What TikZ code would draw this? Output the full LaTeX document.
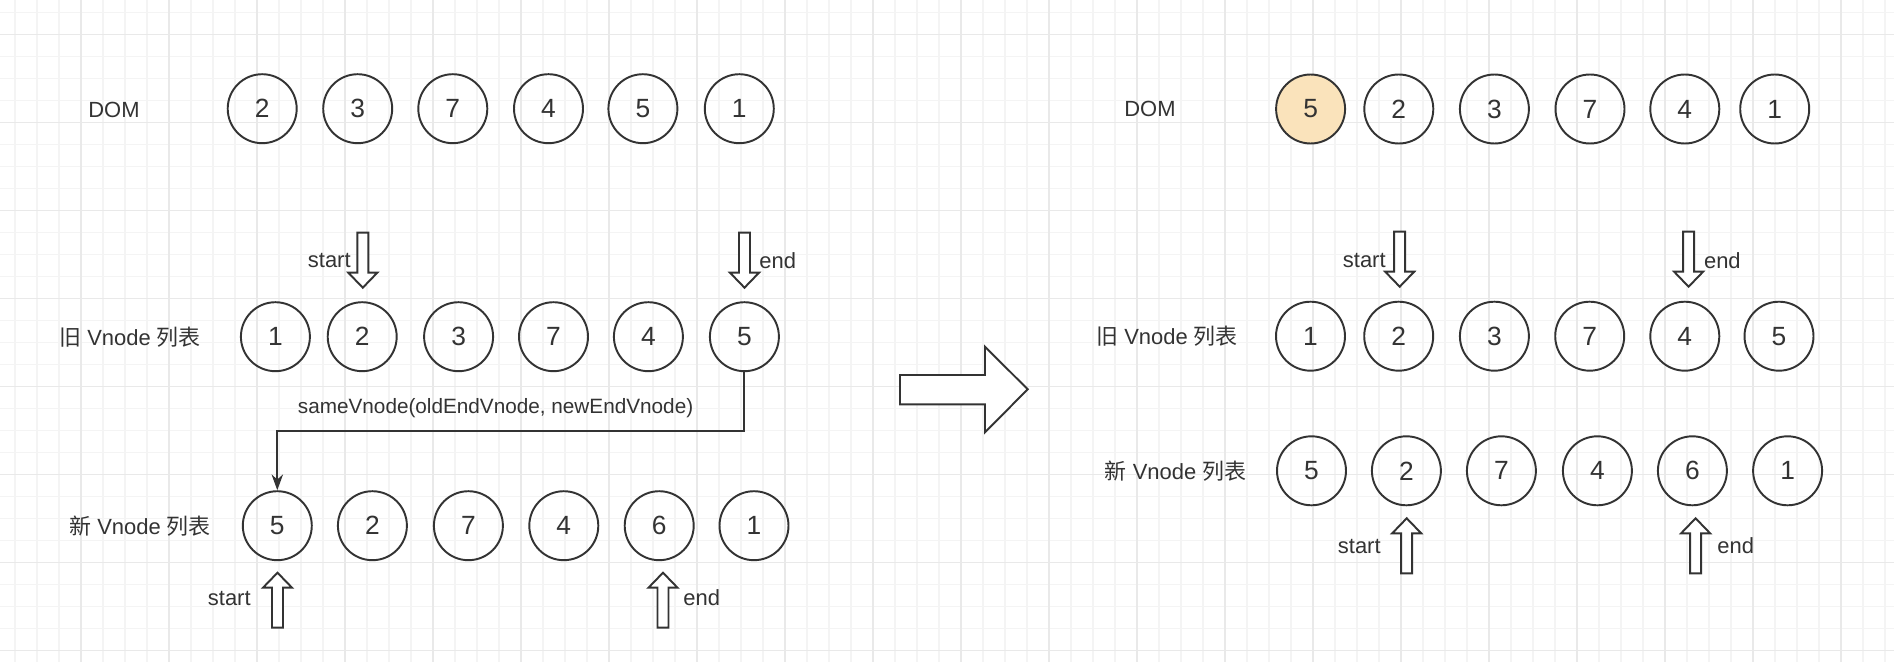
\documentclass[tikz,border=0pt]{standalone}
\usepackage{fontspec}
\setmainfont{Liberation Sans}
\newfontfamily\cjk{Noto Sans CJK SC}
\usetikzlibrary{arrows.meta}
\definecolor{ink}{HTML}{333333}
\definecolor{gridminor}{HTML}{F4F4F4}
\definecolor{gridmajor}{HTML}{E9E9E9}
\definecolor{hl}{HTML}{FAE3BB}
\begin{document}
\begin{tikzpicture}[x=0.02cm,y=-0.02cm,
  num/.style={circle,draw=ink,line width=1.1pt,minimum size=1.38cm,inner sep=0pt,text=ink,font=\fontsize{15}{18}\selectfont},
  lbl/.style={text=ink,font=\fontsize{12.5}{15}\selectfont,inner sep=0pt},
  small/.style={text=ink,font=\fontsize{11.8}{14}\selectfont,inner sep=0pt},
  blk/.style={draw=ink,line width=1.1pt,fill=white,line join=miter},
  conn/.style={draw=ink,line width=1.1pt,-{Stealth[length=9pt,width=6.5pt]}},
  pics/downblk/.style={code={\draw[blk] (-5.5,0) -- (5.5,0) -- (5.5,40) -- (14.5,40) -- (0,55) -- (-14.5,40) -- (-5.5,40) -- cycle;}},
  pics/upblk/.style={code={\draw[blk] (0,0) -- (14.5,15) -- (5.5,15) -- (5.5,55) -- (-5.5,55) -- (-5.5,15) -- (-14.5,15) -- cycle;}},
]
\useasboundingbox (0,0) rectangle (1894,662);
\fill[white] (0,0) rectangle (1894,662);
% grid
\foreach \i in {0,...,85} \draw[gridminor,line width=0.65pt] ({15+22*\i},0) -- ({15+22*\i},662);
\foreach \j in {0,...,29} \draw[gridminor,line width=0.65pt] (0,{12.3+22*\j}) -- (1894,{12.3+22*\j});
\foreach \i in {0,...,20} \draw[gridmajor,line width=0.8pt] ({81+88*\i},0) -- ({81+88*\i},662);
\foreach \j in {0,...,7} \draw[gridmajor,line width=0.8pt] (0,{34.3+88*\j}) -- (1894,{34.3+88*\j});

% ---------- left half ----------
\node[lbl] (ldom) at (114,110) {DOM};
\node[lbl] (lold) at (130,337) {{\cjk 旧} Vnode {\cjk 列表}};
\node[lbl] (lnew) at (140,526) {{\cjk 新} Vnode {\cjk 列表}};

\node[num] (ld1) at (262.2,108.7) {2};
\node[num] (ld2) at (357.7,108.7) {3};
\node[num] (ld3) at (452.8,108.7) {7};
\node[num] (ld4) at (548.5,108.7) {4};
\node[num] (ld5) at (642.9,108.7) {5};
\node[num] (ld6) at (739.3,108.7) {1};

\node[num] (lo1) at (275.4,336.7) {1};
\node[num] (lo2) at (362.2,336.7) {2};
\node[num] (lo3) at (458.6,336.7) {3};
\node[num] (lo4) at (553.5,336.7) {7};
\node[num] (lo5) at (648.4,336.7) {4};
\node[num] (lo6) at (744.4,336.7) {5};

\node[num] (ln1) at (277.3,525.7) {5};
\node[num] (ln2) at (372.4,525.7) {2};
\node[num] (ln3) at (468.4,525.7) {7};
\node[num] (ln4) at (563.8,525.7) {4};
\node[num] (ln5) at (659.2,525.7) {6};
\node[num] (ln6) at (754,525.7) {1};

\pic at (362.8,232.7) {downblk};
\pic at (744.5,232.7) {downblk};
\node[lbl,anchor=east] (lst1) at (351,260.7) {start};
\node[lbl,anchor=west] (len1) at (759,260.7) {end};

\pic at (277.5,572.7) {upblk};
\pic at (663,572.7) {upblk};
\node[lbl,anchor=east] (lst2) at (251,599) {start};
\node[lbl,anchor=west] (len2) at (683,598) {end};

\coordinate (turn) at (0,431);
\draw[conn] (lo6.south) |- (ln1.north |- turn) -- (ln1.north);
\node[small] (same) at (495.6,408.3) {sameVnode(oldEndVnode, newEndVnode)};

% ---------- big arrow ----------
\draw[blk] (900,375) -- (985,375) -- (985,346.7) -- (1027.7,389.3) -- (985,432.3) -- (985,404.3) -- (900,404.3) -- cycle;

% ---------- right half ----------
\node[lbl] (rdom) at (1150,109.3) {DOM};
\node[lbl] (rold) at (1167,336) {{\cjk 旧} Vnode {\cjk 列表}};
\node[lbl] (rnew) at (1175.5,471) {{\cjk 新} Vnode {\cjk 列表}};

\node[num,fill=hl] (rd1) at (1310.6,109) {5};
\node[num] (rd2) at (1398.8,109) {2};
\node[num] (rd3) at (1494.4,109) {3};
\node[num] (rd4) at (1590,109) {7};
\node[num] (rd5) at (1684.8,109) {4};
\node[num] (rd6) at (1774.7,109) {1};

\node[num] (ro1) at (1310.5,336.2) {1};
\node[num] (ro2) at (1398.7,336.2) {2};
\node[num] (ro3) at (1494.4,336.2) {3};
\node[num] (ro4) at (1589.7,336.2) {7};
\node[num] (ro5) at (1684.8,336.2) {4};
\node[num] (ro6) at (1779,336.2) {5};

\node[num] (rn1) at (1311.5,470.8) {5};
\node[num] (rn2) at (1406.4,470.8) {2};
\node[num] (rn3) at (1501.4,470.8) {7};
\node[num] (rn4) at (1597.4,470.8) {4};
\node[num] (rn5) at (1692.4,470.8) {6};
\node[num] (rn6) at (1787.6,470.8) {1};

\pic at (1399.7,231.7) {downblk};
\pic at (1688.6,231.7) {downblk};
\node[lbl,anchor=east] (rst1) at (1386,261) {start};
\node[lbl,anchor=west] (ren1) at (1703.7,261) {end};

\pic at (1406.7,518.3) {upblk};
\pic at (1695.6,518.3) {upblk};
\node[lbl,anchor=east] (rst2) at (1381,546.7) {start};
\node[lbl,anchor=west] (ren2) at (1717,546) {end};
\end{tikzpicture}
\end{document}
